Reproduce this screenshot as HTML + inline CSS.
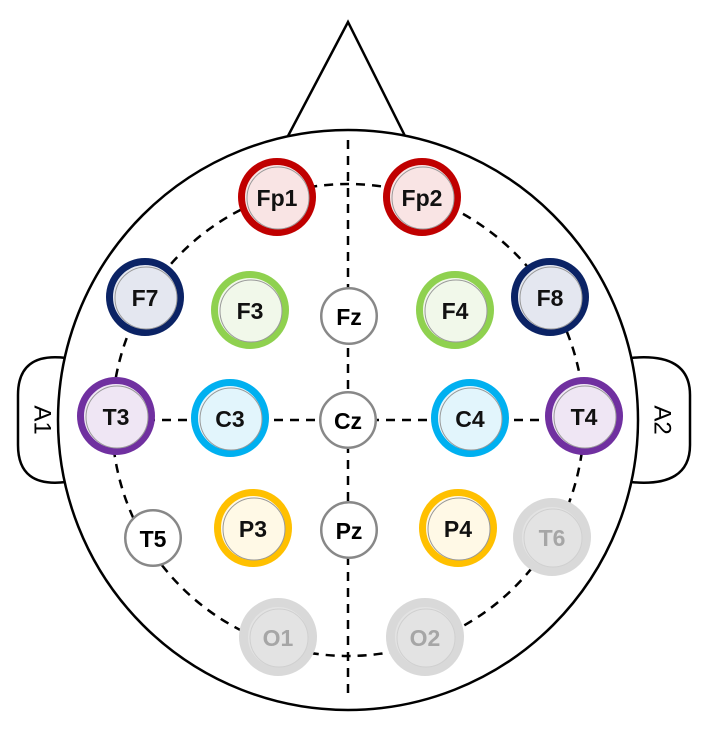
<!DOCTYPE html>
<html><head><meta charset="utf-8"><style>
html,body{margin:0;padding:0;background:#fff;width:722px;height:736px;overflow:hidden}
svg{display:block}
text{font-family:"Liberation Sans",Arial,sans-serif;font-weight:bold;font-size:23px}
</style></head><body>
<svg id="s" width="722" height="736" viewBox="0 0 722 736">
  <g fill="#fff" stroke="#000" stroke-width="2.5">
    <path d="M288,136 L348,22 L405,136" />
    <path d="M66,358 Q18,352 18,395 L18,445 Q18,488 66,482" />
    <path d="M630,358 Q690,352 690,395 L690,445 Q690,488 630,482" />
    <circle cx="348" cy="420" r="290" />
  </g>
  <text transform="translate(42,420) rotate(90)" text-anchor="middle" dominant-baseline="central" style="font-weight:normal;font-size:24px">A1</text>
  <text transform="translate(662,420) rotate(90)" text-anchor="middle" dominant-baseline="central" style="font-weight:normal;font-size:24px">A2</text>
  <g fill="none" stroke="#000" stroke-width="2.5" stroke-dasharray="9,7">
    <circle cx="348" cy="420" r="236" />
    <line x1="348" y1="140" x2="348" y2="695" />
    <line x1="114" y1="420" x2="582" y2="420" />
  </g>
  <g id="el"></g>
</svg>
<script>
const labels = ["Fp1","Fp2","F7","F3","Fz","F4","F8","T3","C3","Cz","C4","T4","T5","P3","Pz","P4","T6","O1","O2"];
const xs = [277,422,145,250,349,455,550,116,230,348,470,584,153,253,349,458,552,278,425];
const ys = [197,197,297,310,316,310,297,416,418,420,418,416,538,528,530,528,537,637,637];
const groups = ["fp","fp","f7","f3","mid","f3","f7","t","c","mid","c","t","mid","p","mid","p","o","o","o"];
const styles = {
  fp:{stroke:"#c00000",fill:"#f9e4e4",r:39,sw:7,text:"#111"},
  f7:{stroke:"#0b2365",fill:"#e4e7f0",r:39,sw:7,text:"#111"},
  f3:{stroke:"#8fd14f",fill:"#f1f8ea",r:39,sw:7,text:"#111"},
  t:{stroke:"#7030a0",fill:"#efe6f4",r:39,sw:7,text:"#111"},
  c:{stroke:"#00b0f0",fill:"#e2f5fc",r:39,sw:7,text:"#111"},
  p:{stroke:"#ffc000",fill:"#fff9e6",r:39,sw:7,text:"#111"},
  mid:{stroke:"#888",fill:"#fff",r:29,sw:2.5,text:"#000"},
  o:{stroke:"#d9d9d9",fill:"#e3e3e3",r:39,sw:9,text:"#a6a6a6"}
};
const g = document.getElementById('el');
const NS = "http://www.w3.org/2000/svg";
labels.forEach((lab,i)=>{
  const st = styles[groups[i]];
  const grp = document.createElementNS(NS,'g');
  
  
  const c = document.createElementNS(NS,'circle');
  
  
  c.setAttribute('cx', xs[i]); c.setAttribute('cy', ys[i]);
  c.setAttribute('r', st.r - st.sw/2);
  c.setAttribute('fill', st.fill); c.setAttribute('stroke', st.stroke);
  c.setAttribute('stroke-width', st.sw);
  grp.appendChild(c);
  if (st.sw > 5) {
    const inner = document.createElementNS(NS,'circle');
    
    
    inner.setAttribute('cx', xs[i]+1); inner.setAttribute('cy', ys[i]+1);
    inner.setAttribute('r', st.r - st.sw - 1);
    inner.setAttribute('fill', 'none');
    inner.setAttribute('stroke', groups[i]==='o' ? '#d0d0d0' : '#999');
    inner.setAttribute('stroke-width', 1);
    grp.appendChild(inner);
  }
  const t = document.createElementNS(NS,'text');
  
  
  t.setAttribute('x', xs[i]); t.setAttribute('y', ys[i]+1);
  t.setAttribute('text-anchor','middle'); t.setAttribute('dominant-baseline','central');
  t.setAttribute('fill', st.text);
  t.textContent = lab;
  grp.appendChild(t);
  g.appendChild(grp);
});
</script>
</body></html>
